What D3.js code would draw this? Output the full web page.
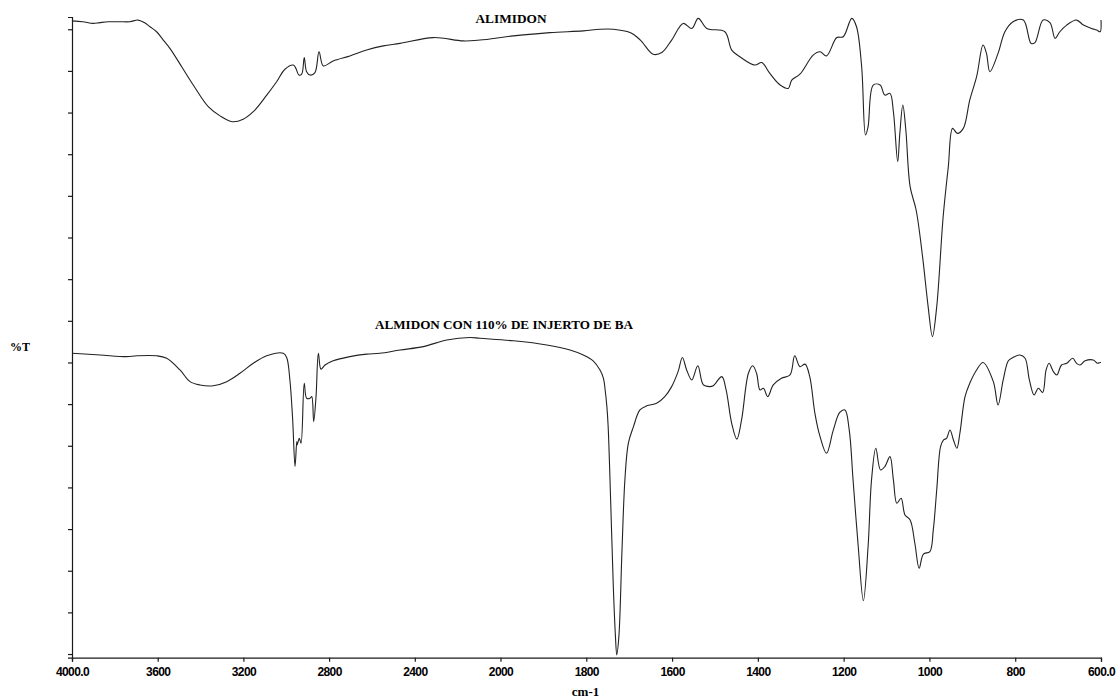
<!DOCTYPE html>
<html>
<head>
<meta charset="utf-8">
<script src="https://cdn.jsdelivr.net/npm/d3@7"></script>
<style>
  html, body { margin: 0; padding: 0; background: #fff; }
  svg { display: block; }
</style>
</head>
<body>
<svg id="chart" width="1118" height="698"></svg>
<script>
// ---- data (wavenumber cm-1, %T arbitrary units) ----
const xTicks = [4000, 3600, 3200, 2800, 2400, 2000, 1800, 1600, 1400, 1200, 1000, 800, 600];
const yTicks = [0, 5, 10, 15, 20, 25, 30, 35, 40, 45, 50, 55, 60, 65, 70, 75];
const seriesNames = ["ALIMIDON", "ALMIDON CON 110% DE INJERTO DE BA"];

const alimidon = [
  [4000,76.0],[3950,75.9],[3902,75.7],[3870,75.8],[3830,75.9],[3776,75.9],[3730,75.9],[3692,76.1],
  [3663,75.8],[3636,75.3],[3605,74.7],[3574,73.7],[3543,72.7],[3488,70.5],[3434,68.3],[3364,65.7],
  [3309,64.6],[3252,63.9],[3201,64.2],[3154,65.1],[3091,67.1],[3045,68.7],[3006,70.2],[2967,70.7],
  [2955,70.3],[2941,69.5],[2928,69.6],[2916,71.6],[2905,69.9],[2889,69.5],[2866,69.8],[2847,72.3],
  [2827,70.6],[2781,71.2],[2703,71.8],[2625,72.5],[2547,73.0],[2469,73.3],[2314,74.0],[2174,73.6],
  [2096,73.7],[1970,74.2],[1885,74.6],[1807,74.8],[1768,75.0],[1737,75.0],[1698,74.6],[1674,73.7],
  [1644,72.0],[1624,72.2],[1601,73.7],[1574,75.7],[1554,75.1],[1539,76.3],[1519,75.1],[1477,74.7],
  [1461,72.5],[1442,71.7],[1407,70.7],[1391,71.0],[1372,69.7],[1348,68.3],[1329,67.9],[1321,68.9],
  [1302,69.6],[1271,71.9],[1255,72.3],[1240,71.8],[1216,74.0],[1201,74.1],[1181,76.3],[1170,75.3],
  [1158,70.5],[1149,62.3],[1143,63.3],[1131,68.3],[1115,68.3],[1104,67.1],[1092,67.3],[1084,65.1],
  [1074,59.1],[1069,62.5],[1062,65.9],[1055,62.9],[1045,56.1],[1031,53.3],[1016,47.7],[1003,41.7],
  [993,38.1],[983,41.7],[968,52.5],[956,58.5],[946,63.1],[935,62.5],[921,63.1],[906,66.5],
  [890,69.3],[875,73.1],[867,72.1],[859,69.9],[840,72.1],[824,74.7],[805,75.9],[781,76.1],
  [763,73.3],[754,73.4],[735,76.1],[719,75.8],[707,73.9],[696,74.7],[680,75.5],[657,76.1],
  [641,75.5],[622,75.1],[610,74.9],[602,74.7],[600,76.1]
];

const injerto = [
  [4000,36.1],[3869,35.9],[3745,35.7],[3698,35.8],[3605,35.8],[3558,35.5],[3496,34.1],[3449,32.7],
  [3403,32.3],[3341,32.2],[3278,32.7],[3216,33.7],[3154,34.9],[3091,35.8],[3014,36.1],[2998,35.6],
  [2983,32.9],[2970,28.1],[2959,22.5],[2951,25.5],[2949,25.1],[2939,25.9],[2931,25.3],[2916,32.5],
  [2905,30.7],[2889,30.7],[2881,30.9],[2872,27.9],[2861,30.9],[2850,36.1],[2838,34.2],[2819,34.7],
  [2781,35.2],[2703,35.7],[2625,36.0],[2563,36.1],[2469,36.5],[2360,36.9],[2251,37.7],[2143,38.0],
  [2096,37.9],[1970,37.6],[1892,37.1],[1838,36.5],[1807,35.9],[1784,35.2],[1768,34.1],[1760,33.1],
  [1756,31.7],[1752,29.7],[1749,27.3],[1743,18.1],[1737,8.1],[1732,2.1],[1729,-0.1],[1724,2.1],
  [1717,12.1],[1710,20.9],[1702,25.3],[1690,27.3],[1675,29.3],[1659,29.8],[1636,30.1],[1617,30.9],
  [1601,32.1],[1586,33.9],[1576,35.6],[1566,34.1],[1554,32.9],[1540,34.6],[1527,32.3],[1512,32.1],
  [1504,32.2],[1484,33.3],[1474,31.7],[1461,27.7],[1449,25.8],[1438,28.1],[1422,33.7],[1412,34.6],
  [1403,33.7],[1395,31.7],[1387,31.9],[1377,30.9],[1364,32.3],[1345,33.1],[1325,33.5],[1314,35.8],
  [1302,34.5],[1290,34.8],[1279,33.3],[1267,28.9],[1255,26.1],[1240,24.1],[1224,26.9],[1209,29.0],
  [1197,29.3],[1187,26.9],[1178,20.9],[1166,12.9],[1154,6.4],[1143,12.9],[1135,20.9],[1125,24.7],
  [1114,22.1],[1104,22.5],[1092,23.7],[1084,20.9],[1076,18.1],[1066,18.7],[1057,16.7],[1045,16.1],
  [1034,13.3],[1024,10.3],[1014,12.0],[999,12.3],[991,14.9],[983,19.7],[974,24.9],[967,25.7],
  [960,25.9],[952,26.9],[944,25.7],[936,24.7],[929,26.5],[917,30.9],[906,32.5],[890,34.1],
  [875,35.0],[851,32.7],[840,29.9],[828,32.9],[816,35.2],[805,35.6],[789,35.9],[777,35.5],
  [767,32.9],[756,31.1],[746,31.9],[736,31.4],[728,34.1],[721,34.9],[711,33.9],[703,33.5],
  [692,34.7],[680,34.9],[666,35.5],[657,34.9],[649,34.7],[637,35.2],[618,35.3],[608,34.9],
  [602,35.0],[600,35.0]
];

// ---- layout ----
const svg = d3.select("#chart");
const x = d3.scaleLinear().domain([4000, 2000, 600]).range([72, 500.5, 1101]);
const y = d3.scaleLinear().domain([-0.44, 76.47]).range([657.7, 17]);

const ink = "#1a1a1a";

// axes
const xAxis = d3.axisBottom(x).tickValues(xTicks).tickSize(4).tickSizeOuter(4)
  .tickFormat(d => (d === 4000 || d === 600) ? d.toFixed(1) : String(d));
const gx = svg.append("g").attr("transform", "translate(0,657.7)").call(xAxis);
gx.select(".domain").attr("stroke", ink).attr("stroke-width", 1.2);
gx.selectAll(".tick line").attr("stroke", ink).attr("stroke-width", 1.2);
gx.selectAll(".tick text")
  .attr("fill", "#000")
  .attr("y", 10)
  .attr("dy", "0.71em")
  .style("font-family", "'Liberation Sans', Arial, sans-serif")
  .style("font-weight", "bold")
  .style("font-size", "12px")
  .style("letter-spacing", "-0.6px");

const yAxis = d3.axisLeft(y).tickValues(yTicks).tickSize(4).tickSizeOuter(4).tickFormat("");
const gy = svg.append("g").attr("transform", "translate(72,0)").call(yAxis);
gy.select(".domain").attr("stroke", ink).attr("stroke-width", 1.2);
gy.selectAll(".tick line").attr("stroke", ink).attr("stroke-width", 1.2);

// lines
const line = d3.line()
  .x(d => x(d[0]))
  .y(d => y(d[1]))
  .curve(d3.curveCatmullRom.alpha(0.5));

[alimidon, injerto].forEach(s => {
  svg.append("path")
    .datum(s)
    .attr("d", line)
    .attr("fill", "none")
    .attr("stroke", "#222")
    .attr("stroke-width", 1.1)
    .attr("stroke-linejoin", "round");
});

// labels
const serif = "'Liberation Serif', 'Times New Roman', serif";
svg.append("text")
  .attr("x", 511).attr("y", 22.5)
  .attr("text-anchor", "middle")
  .attr("textLength", 71).attr("lengthAdjust", "spacingAndGlyphs")
  .style("font-family", serif).style("font-weight", "bold").style("font-size", "13px")
  .text(seriesNames[0]);

svg.append("text")
  .attr("x", 504).attr("y", 328.5)
  .attr("text-anchor", "middle")
  .attr("textLength", 258).attr("lengthAdjust", "spacingAndGlyphs")
  .style("font-family", serif).style("font-weight", "bold").style("font-size", "13px")
  .text(seriesNames[1]);

svg.append("text")
  .attr("x", 10).attr("y", 350.5)
  .attr("textLength", 20).attr("lengthAdjust", "spacingAndGlyphs")
  .style("font-family", serif).style("font-weight", "bold").style("font-size", "13px")
  .text("%T");

svg.append("text")
  .attr("x", 585.5).attr("y", 695.5)
  .attr("text-anchor", "middle")
  .style("font-family", serif).style("font-weight", "bold").style("font-size", "13px")
  .text("cm-1");
</script>
</body>
</html>
